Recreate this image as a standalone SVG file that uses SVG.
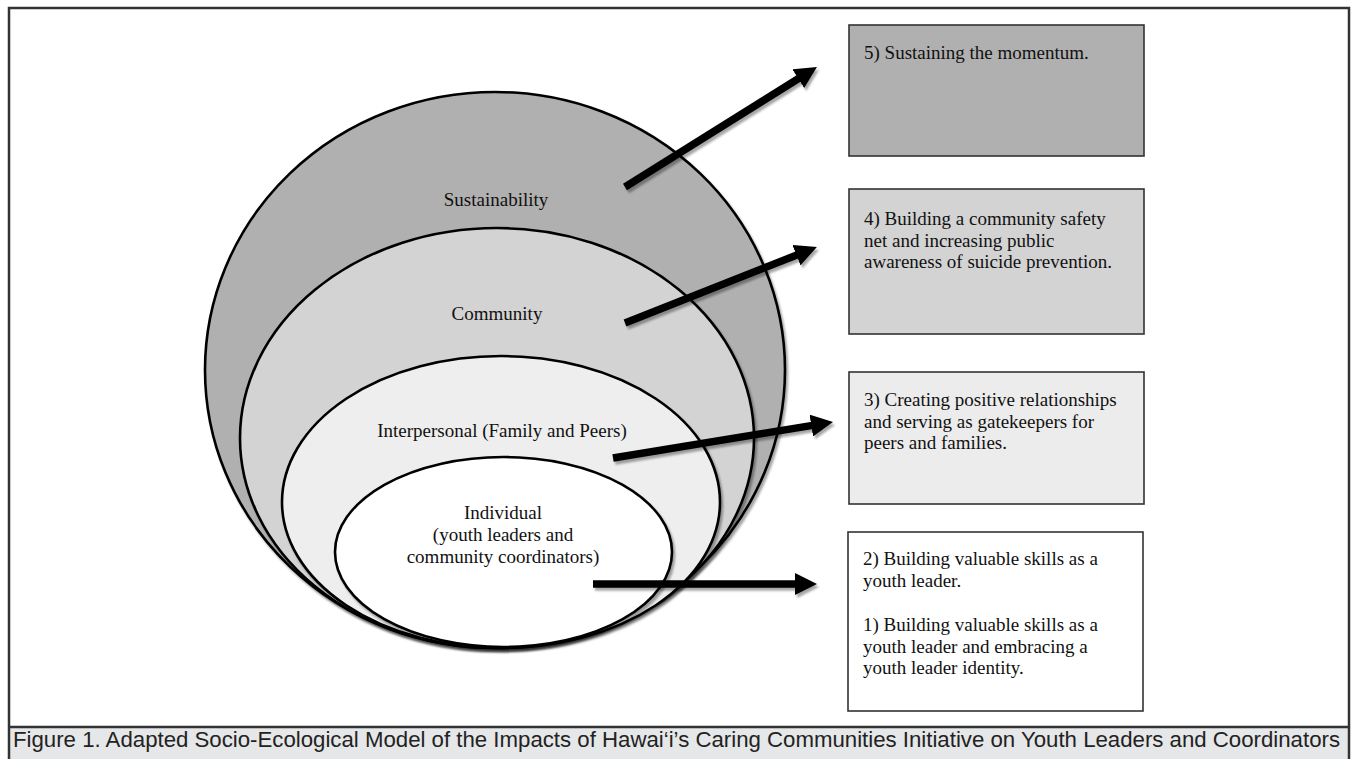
<svg xmlns="http://www.w3.org/2000/svg" width="1351" height="759" viewBox="0 0 1351 759">
<style>
.frame{fill:none;stroke:#333;stroke-width:2.5}
.ell{stroke:#000;stroke-width:2.6}
.box{stroke:#333;stroke-width:1.6}
.t{font-family:"Liberation Serif","Times New Roman",serif;font-size:19px;fill:#111}
.c{text-anchor:middle}
.cap{font-family:"Liberation Sans",Arial,sans-serif;font-size:22px;fill:#222}
.arr{stroke:#000;stroke-width:7.5;fill:none;marker-end:url(#head)}
</style>
<defs>
<filter id="sh" x="-10%" y="-10%" width="130%" height="130%">
<feDropShadow dx="2" dy="3" stdDeviation="1.2" flood-color="#000" flood-opacity="0.35"/>
</filter>
<marker id="head" markerUnits="userSpaceOnUse" markerWidth="22" markerHeight="22" refX="6" refY="11" orient="auto">
<path d="M0,0 L22,11 L0,22 z" fill="#000"/>
</marker>
</defs>
<rect x="0" y="0" width="1351" height="759" fill="#fff"/>
<rect x="9" y="728" width="1340" height="31" fill="#e6e7e8"/>
<rect class="frame" x="9" y="8" width="1340" height="760"/>
<line class="frame" x1="9" y1="727" x2="1349" y2="727"/>
<text class="cap" x="13" y="747" textLength="1327" lengthAdjust="spacingAndGlyphs">Figure 1. Adapted Socio-Ecological Model of the Impacts of Hawai‘i’s Caring Communities Initiative on Youth Leaders and Coordinators</text>

<g id="sustainability">
<ellipse class="ell" cx="495" cy="370" rx="290" ry="278" fill="#b0b0b0" filter="url(#sh)"/>
<text class="t c" x="496" y="206">Sustainability</text>
</g>
<g id="community">
<ellipse class="ell" cx="497" cy="438" rx="257" ry="210" fill="#d3d3d3" filter="url(#sh)"/>
<text class="t c" x="497" y="320">Community</text>
</g>
<g id="interpersonal">
<ellipse class="ell" cx="501" cy="502" rx="219" ry="146" fill="#eeeeee" filter="url(#sh)"/>
<text class="t c" x="502" y="437">Interpersonal (Family and Peers)</text>
</g>
<g id="individual">
<ellipse class="ell" cx="503.5" cy="552" rx="168.5" ry="95" fill="#ffffff" filter="url(#sh)"/>
<text class="t c" x="503" y="519">Individual</text>
<text class="t c" x="503" y="541">(youth leaders and</text>
<text class="t c" x="503" y="563">community coordinators)</text>
</g>

<g id="box5">
<rect class="box" x="849" y="25" width="295" height="131" fill="#b0b0b0"/>
<text class="t" x="864" y="59">5) Sustaining the momentum.</text>
</g>
<g id="box4">
<rect class="box" x="849" y="189" width="295" height="145" fill="#d3d3d3"/>
<text class="t" x="864" y="225">4) Building a community safety</text>
<text class="t" x="864" y="247">net and increasing public</text>
<text class="t" x="864" y="268">awareness of suicide prevention.</text>
</g>
<g id="box3">
<rect class="box" x="849" y="372" width="295" height="132" fill="#ececec"/>
<text class="t" x="864" y="406">3) Creating positive relationships</text>
<text class="t" x="864" y="428">and serving as gatekeepers for</text>
<text class="t" x="864" y="449">peers and families.</text>
</g>
<g id="box21">
<rect class="box" x="848" y="532" width="295" height="179" fill="#ffffff"/>
<text class="t" x="863" y="565">2) Building valuable skills as a</text>
<text class="t" x="863" y="587">youth leader.</text>
<text class="t" x="863" y="631">1) Building valuable skills as a</text>
<text class="t" x="863" y="653">youth leader and embracing a</text>
<text class="t" x="863" y="674">youth leader identity.</text>
</g>

<g id="connectors" filter="url(#sh)">
<line class="arr" x1="625" y1="187" x2="803.4" y2="75.5"/>
<line class="arr" x1="625" y1="323" x2="802" y2="252.9"/>
<line class="arr" x1="613" y1="458" x2="817.2" y2="424.6"/>
<line class="arr" x1="593" y1="584" x2="801" y2="584"/>
</g>
</svg>
